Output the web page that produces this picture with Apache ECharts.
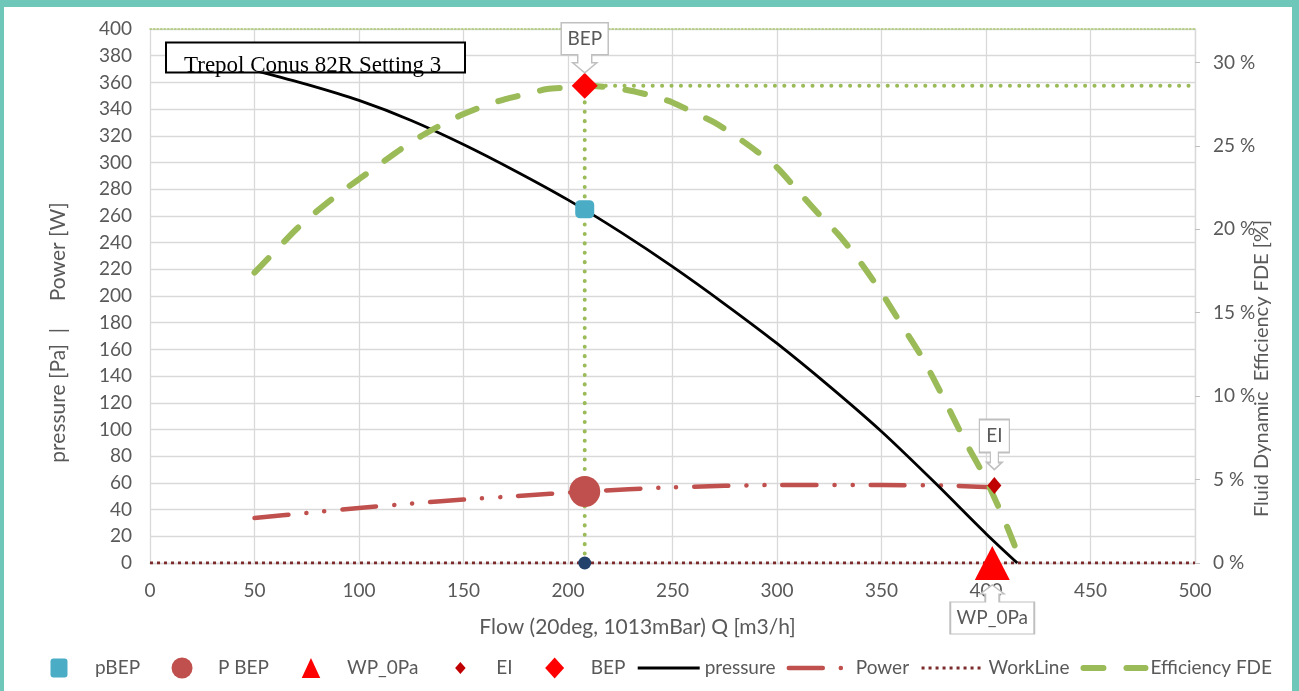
<!DOCTYPE html>
<html><head><meta charset="utf-8">
<script src="https://cdn.jsdelivr.net/npm/echarts@6/dist/echarts.min.js"></script>
<style>
html,body{margin:0;padding:0;background:#6FC7B9;width:1299px;height:691px;overflow:hidden}
#c{position:absolute;left:4px;top:7px;width:1288px;height:684px;background:#fff}
</style></head><body><div id="c"></div>
<script>
// ---- data ----
const legendNames = ['pBEP','P BEP','WP_0Pa','EI','BEP','pressure','Power','WorkLine','Efficiency FDE'];
const pressureFlow = [50, 75, 100, 125, 150, 175, 200, 225, 250, 275, 300, 325, 350, 375, 400, 415];
const pressureVals = [369, 358.5, 346.5, 331.5, 313.5, 293.5, 272, 248, 222, 194, 164.5, 132.5, 98.5, 61, 22, 0];
const powerFlow = [50, 75, 100, 125, 150, 175, 208, 250, 300, 350, 385, 409];
const powerVals = [33.7, 37.5, 41.2, 44.5, 47.5, 50.1, 53.5, 56.7, 58.4, 58.4, 57.8, 56.3];
const effFlow = [50, 60, 70, 80, 90, 100, 110, 120, 130, 140, 150, 160, 170, 180, 190, 200, 208, 220, 230, 240, 250, 260, 270, 280, 290, 300, 310, 320, 330, 340, 350, 360, 370, 380, 390, 400, 410, 417];
const effVals = [17.4, 18.7, 20.0, 21.1, 22.1, 23.0, 23.9, 24.8, 25.6, 26.3, 26.9, 27.4, 27.8, 28.1, 28.4, 28.5, 28.6, 28.5, 28.3, 28.0, 27.6, 27.0, 26.4, 25.6, 24.7, 23.7, 22.3, 20.9, 19.6, 18.0, 16.2, 14.2, 12.2, 9.8, 7.3, 5.0, 2.2, 0];
const workFlow = [0, 500];
const workVals = [0, 0];
const pBEPPoint = [208, 265];
const powerBEPPoint = [208, 53.6];
const wp0Point = [403, 0];
const eiPoint = [404, 58];
const bepPoint = [208, 28.6];      // efficiency axis
const bepGuideFlow = [208, 208, 500];
const bepGuideVals = [0, 28.6, 28.6];
const workDot = [208, 0];

const zip = (a, b) => a.map((v, i) => [v, b[i]]);
const F = 'Lato';
const grey = '#595959';
const callStyle = {color:'#fff', borderColor:'#bfbfbf', borderWidth:1.5};

const styles = {
  WorkLine:{color:'#7B2B2B', width:3, type:[3,4]},
  Power:{color:'#C0504D', width:4.5, type:[34,18,0.1,18,0.1,18], cap:'round'},
  pressure:{color:'#000', width:2.8},
  'Efficiency FDE':{color:'#9BBB59', width:6, type:[20,23], cap:'round'}
};
const legendIcons = {
  'pBEP':'path://M0 0 M62 22 M25.5 1.5 H36.5 Q39.5 1.5 39.5 4.5 V17.5 Q39.5 20.5 36.5 20.5 H25.5 Q22.5 20.5 22.5 17.5 V4.5 Q22.5 1.5 25.5 1.5 Z',
  'P BEP':'path://M0 0 M62 22 M20.5 11 A10.5 10.5 0 1 0 41.5 11 A10.5 10.5 0 1 0 20.5 11 Z',
  'WP_0Pa':'path://M0 0 M62 22 M31 1 L40.25 21 L21.75 21 Z',
  'EI':'path://M0 0 M62 22 M31 5 L36.25 11 L31 17 L25.75 11 Z',
  'BEP':'path://M0 0 M62 22 M31 0.5 L40.5 11 L31 21.5 L21.5 11 Z'
};
const legendData = legendNames.map(n => legendIcons[n]
  ? {name:n, icon:legendIcons[n]}
  : {name:n, itemStyle:{opacity:0}, lineStyle:styles[n]});

const chart = echarts.init(document.getElementById('c'), null, {renderer:'canvas'});
chart.setOption({
  animation:false,
  grid:{left:146, top:22, right:97, bottom:128},
  legend:{
    data: legendData, top:650, left:24, padding:0, itemWidth:62, itemHeight:22, itemGap:11,
    textStyle:{color:grey, fontSize:19, fontFamily:F}
  },
  xAxis:[
    {type:'value', min:0, max:500, interval:50,
     axisLine:{show:true, onZero:false, lineStyle:{color:'#d9d9d9', width:1.3}}, axisTick:{show:false},
     axisLabel:{color:grey, fontSize:19, fontFamily:F, margin:18},
     splitLine:{lineStyle:{color:'#d9d9d9', width:1.3}}},
    {type:'value', min:0, max:500, position:'top',
     axisLine:{show:true, onZero:false, lineStyle:{color:'#a9c86e', width:1.5, type:[1.5,2]}},
     axisTick:{show:false}, axisLabel:{show:false}, splitLine:{show:false}}
  ],
  yAxis:[
    {type:'value', min:0, max:400, interval:20,
     axisLine:{show:false, onZero:false}, axisTick:{show:false},
     axisLabel:{color:grey, fontSize:19, fontFamily:F, margin:18},
     splitLine:{lineStyle:{color:'#d9d9d9', width:1.3}}},
    {type:'value', min:0, max:32, interval:5, position:'right',
     axisLine:{show:true, onZero:false, lineStyle:{color:'#d9d9d9', width:1.3}},
     axisTick:{show:true, length:5, lineStyle:{color:'#bfbfbf'}},
     axisLabel:{color:grey, fontSize:19, fontFamily:F, margin:18, formatter:'{value} %', showMaxLabel:false},
     splitLine:{show:false}}
  ],
  series:[
    {name:'WorkLine', type:'line', data:zip(workFlow, workVals), symbol:'none', z:2,
     lineStyle:styles.WorkLine, itemStyle:{color:'#7B2B2B'}},
    {name:'bepGuide', type:'line', yAxisIndex:1, data:zip(bepGuideFlow, bepGuideVals), symbol:'none', z:3,
     lineStyle:{color:'#9BBB59', width:4, type:[0.1,9.3], cap:'round'}},
    {name:'Power', type:'line', data:zip(powerFlow, powerVals), symbol:'none', smooth:0.25, z:4,
     lineStyle:styles.Power, itemStyle:{color:'#C0504D'}},
    {name:'pressure', type:'line', data:zip(pressureFlow, pressureVals), symbol:'none', smooth:0.25, z:4,
     lineStyle:styles.pressure, itemStyle:{color:'#000'}},
    {name:'Efficiency FDE', type:'line', yAxisIndex:1, data:zip(effFlow, effVals), symbol:'none', smooth:0.25, z:5,
     lineStyle:styles['Efficiency FDE'], itemStyle:{color:'#9BBB59'}},
    {name:'wdot', type:'scatter', data:[workDot], symbol:'circle', symbolSize:13, z:6,
     itemStyle:{color:'#22416b', opacity:1}},
    {name:'pBEP', type:'scatter', data:[pBEPPoint], symbol:'roundRect', symbolSize:[19,18], z:6,
     itemStyle:{color:'#4BACC6', opacity:1}},
    {name:'P BEP', type:'scatter', data:[powerBEPPoint], symbol:'circle', symbolSize:31, z:6,
     itemStyle:{color:'#C0504D', opacity:1}},
    {name:'WP_0Pa', type:'scatter', data:[wp0Point], symbol:'triangle', symbolSize:[35,34], z:6,
     itemStyle:{color:'#FF0000', opacity:1},
     markPoint:{silent:true, z:20, symbol:'path://M42 0 L54 9 H49 V17 H84 V49 H0 V17 H35 V9 H30 Z',
       symbolSize:[84,49], symbolKeepAspect:false, symbolOffset:[0,46.5], itemStyle:callStyle,
       label:{show:true, formatter:'WP_0Pa', color:grey, fontSize:19, fontFamily:F, offset:[0,8.5]},
       data:[{coord:wp0Point}]}},
    {name:'EI', type:'scatter', data:[eiPoint], symbol:'diamond', symbolSize:[14,17], z:7,
     itemStyle:{color:'#C00000', opacity:1},
     markPoint:{silent:true, z:20, symbol:'path://M0 0 H30 V33 H19 V43 H22.5 L15 50 L7.5 43 H11 V33 H0 Z',
       symbolSize:[30,50], symbolKeepAspect:false, symbolOffset:[0,-41], itemStyle:callStyle,
       label:{show:true, formatter:'EI', color:grey, fontSize:19, fontFamily:F, offset:[0,-8.5]},
       data:[{coord:eiPoint}]}},
    {name:'BEP', type:'scatter', yAxisIndex:1, data:[bepPoint], symbol:'diamond', symbolSize:[26,26], z:7,
     itemStyle:{color:'#FF0000', opacity:1},
     markPoint:{silent:true, z:20, symbol:'path://M0 0 H47 V32 H30.5 V40 H35.5 L23.5 50 L11.5 40 H16.5 V32 H0 Z',
       symbolSize:[47,50], symbolKeepAspect:false, symbolOffset:[0,-38], itemStyle:callStyle,
       label:{show:true, formatter:'BEP', color:grey, fontSize:19, fontFamily:F, offset:[0,-9]},
       data:[{coord:bepPoint}]}}
  ],
  graphic:[
    {type:'rect', z:100, shape:{x:162, y:35.5, width:299, height:30}, style:{fill:'#fff', stroke:'#000', lineWidth:2}},
    {type:'text', z:101, x:180, y:59, style:{text:'Trepol Conus 82R Setting 3', font:'23px "Liberation Serif"', fill:'#000', textVerticalAlign:'middle'}},
    {type:'text', z:101, x:54, y:325.5, rotation:Math.PI/2, style:{text:'pressure [Pa]  |     Power [W]', font:'21px Lato', fill:grey, textAlign:'center', textVerticalAlign:'middle'}},
    {type:'text', z:101, x:633.5, y:620, style:{text:'Flow (20deg, 1013mBar) Q [m3/h]', font:'21px Lato', fill:grey, textAlign:'center', textVerticalAlign:'middle'}},
    {type:'text', z:101, x:1258, y:361.5, rotation:Math.PI/2, style:{text:'Fluid Dynamic  Efficiency FDE [%]', font:'20px Lato', fill:grey, textAlign:'center', textVerticalAlign:'middle'}}
  ]
});
</script></body></html>
